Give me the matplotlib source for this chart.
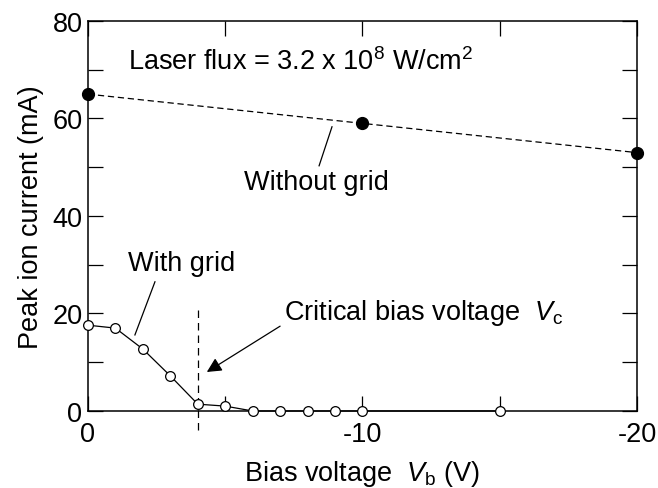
import matplotlib
matplotlib.use("Agg")
import matplotlib.pyplot as plt
from matplotlib.ticker import MultipleLocator

plt.rcParams['font.family'] = ['Liberation Sans', 'DejaVu Sans']
plt.rcParams['mathtext.fontset'] = 'custom'
plt.rcParams['mathtext.rm'] = 'Liberation Sans'
plt.rcParams['mathtext.it'] = 'Liberation Sans:italic'
plt.rcParams['axes.unicode_minus'] = False

# peak ion current vs bias voltage
bias_with_grid = [0, -1, -2, -3, -4, -5, -6, -7, -8, -9, -10, -15]
current_with_grid = [17.6, 17.0, 12.7, 7.2, 1.4, 1.0, 0, 0, 0, 0, 0, 0]

bias_without_grid = [0, -10, -20]
current_without_grid = [65, 59, 53]

critical_bias = -4

fs = 19.5

fig = plt.figure(figsize=(6.58, 4.89), dpi=100)
ax = fig.add_axes([0.1337, 0.1575, 0.8343, 0.7975])

ax.plot(bias_without_grid, current_without_grid, color='black', lw=0.9,
        linestyle=(0, (5, 3)), marker='o', ms=8.5, mfc='black', mec='black',
        clip_on=False, zorder=3)
ax.plot(bias_with_grid, current_with_grid, color='black', lw=0.9,
        marker='o', ms=7, mfc='white', mec='black', mew=0.9,
        clip_on=False, zorder=4)

# critical bias marker line
ax.plot([critical_bias, critical_bias], [20.7, -4.3], color='black', lw=0.9,
        linestyle=(0, (6, 4)), clip_on=False, zorder=2)

ax.set_xlim(0, -20)
ax.set_ylim(0, 80)
ax.xaxis.set_major_locator(MultipleLocator(10))
ax.xaxis.set_minor_locator(MultipleLocator(5))
ax.yaxis.set_major_locator(MultipleLocator(20))
ax.yaxis.set_minor_locator(MultipleLocator(10))
ax.tick_params(which='both', direction='in', top=True, right=True,
               length=11, width=0.9, labelsize=fs)
ax.tick_params(axis='x', pad=7)
ax.tick_params(axis='y', pad=4)
for s in ax.spines.values():
    s.set_linewidth(1.1)

ax.set_xlabel('Bias voltage  $V_{\\mathrm{b}}$ (V)', fontsize=fs, labelpad=8)
ax.set_ylabel('Peak ion current (mA)', fontsize=fs, labelpad=6)

ax.text(-1.46, 71.8, 'Laser flux = 3.2 x 10$^{8}$ W/cm$^{2}$',
        fontsize=fs, va='center', ha='left')

ax.text(-3.4, 30.4, 'With grid', fontsize=fs, ha='center', va='center')
ax.plot([-2.44, -1.71], [26.5, 15.6], color='black', lw=0.9)

ax.text(-8.34, 47, 'Without grid', fontsize=fs, ha='center', va='center')
ax.plot([-8.42, -8.89], [50.3, 58.3], color='black', lw=0.9)

ax.annotate('', xy=(-4.33, 8.0), xytext=(-7.0, 17.4),
            arrowprops=dict(arrowstyle='-|>', color='black', lw=0.9,
                            mutation_scale=22, shrinkA=0, shrinkB=0))
ax.text(-7.15, 20.3, 'Critical bias voltage  $V_{\\mathrm{c}}$',
        fontsize=fs, ha='left', va='center')

fig.savefig('out.png', dpi=100)
